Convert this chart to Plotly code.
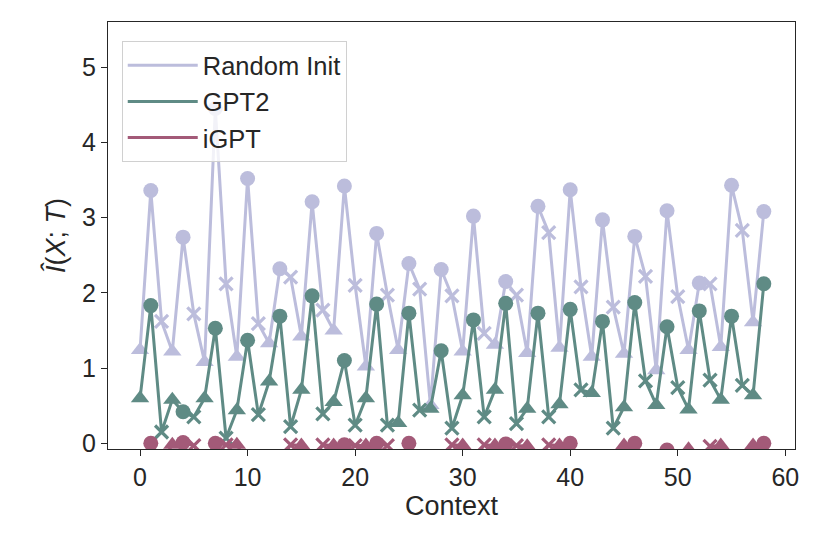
import plotly.graph_objects as go

# context index 0..58
context = list(range(59))

random_init = [1.24, 3.36, 1.62, 1.22, 2.74, 1.72, 1.08, 4.45, 2.12, 1.15,
               3.52, 1.59, 1.33, 2.32, 2.21, 1.42, 3.21, 1.77, 1.50, 3.42,
               2.10, 1.02, 2.79, 1.97, 1.24, 2.39, 2.05, 0.51, 2.31, 1.96,
               1.22, 3.02, 1.46, 1.31, 2.15, 1.97, 1.20, 3.15, 2.80, 1.27,
               3.37, 2.08, 1.15, 2.97, 1.81, 1.19, 2.75, 2.22, 0.97, 3.09,
               1.95, 1.24, 2.13, 2.12, 1.28, 3.43, 2.83, 1.61, 3.08]

gpt2 = [0.60, 1.83, 0.15, 0.58, 0.42, 0.35, 0.60, 1.53, 0.07, 0.44,
        1.37, 0.38, 0.82, 1.69, 0.22, 0.71, 1.96, 0.39, 0.55, 1.10,
        0.24, 0.60, 1.85, 0.24, 0.27, 1.73, 0.44, 0.46, 1.23, 0.20,
        0.64, 1.64, 0.35, 0.71, 1.86, 0.26, 0.46, 1.73, 0.35, 0.52,
        1.78, 0.71, 0.67, 1.62, 0.20, 0.48, 1.87, 0.83, 0.51, 1.55,
        0.74, 0.45, 1.76, 0.84, 0.58, 1.69, 0.77, 0.64, 2.12]

igpt = [-0.25, 0.00, -0.25, -0.02, 0.01, -0.03, -0.25, 0.00, -0.02, -0.02,
        -0.25, -0.25, -0.25, -0.25, -0.02, -0.03, -0.25, -0.02, -0.03, -0.02,
        -0.03, -0.03, 0.00, -0.03, -0.25, 0.00, -0.25, -0.25, -0.25, -0.02,
        -0.03, -0.25, -0.02, -0.03, -0.01, -0.03, -0.04, -0.25, -0.02, -0.03,
        0.00, -0.25, -0.25, -0.25, -0.25, -0.03, 0.00, -0.25, -0.25, -0.09,
        -0.25, -0.08, -0.25, -0.04, -0.03, -0.25, -0.25, -0.03, 0.00]

series = [
    ("Random Init", random_init, "#bcbddc"),
    ("GPT2", gpt2, "#5f8b85"),
    ("iGPT", igpt, "#a35a78"),
]

# markers cycle triangle / circle / x along the context
symbols = [["triangle-up", "circle", "x-thin"][i % 3] for i in context]
sizes = [[16, 15, 13][i % 3] for i in context]
outline = [[0, 0, 3.2][i % 3] for i in context]

FONT = "Liberation Sans, Arial, Helvetica, sans-serif"
INK = "#262626"

fig = go.Figure()

for name, vals, color in series:
    fig.add_trace(go.Scatter(
        x=context, y=vals, mode="lines+markers", name=name,
        showlegend=False,
        line=dict(color=color, width=3),
        marker=dict(symbol=symbols, size=sizes, color=color, opacity=1,
                    line=dict(color=color, width=outline)),
    ))

# legend shows plain line samples like matplotlib
for name, vals, color in series:
    fig.add_trace(go.Scatter(
        x=[None], y=[None], mode="lines", name=name, legendgroup=name,
        line=dict(color=color, width=3),
    ))

# page body adds an 8px offset, margins compensate for it
fig.update_layout(
    width=830, height=554,
    margin=dict(l=100, r=43, t=14, b=113),
    paper_bgcolor="white", plot_bgcolor="white",
    font=dict(family=FONT, size=25, color=INK),
    legend=dict(x=0.02, y=0.955, xanchor="left", yanchor="top",
                bgcolor="rgba(255,255,255,0.8)", bordercolor="#d0d0d0",
                borderwidth=1, font=dict(size=25.5), itemwidth=70,
                tracegroupgap=0),
)

fig.update_xaxes(
    range=[-2.98, 60.9], tickvals=[0, 10, 20, 30, 40, 50, 60],
    showgrid=False, zeroline=False, automargin=False,
    showline=True, linecolor=INK, linewidth=1.3, mirror=True,
    ticks="outside", ticklen=6, tickwidth=1.3, tickcolor=INK,
    title=dict(text="Context", font=dict(size=27), standoff=4),
)
fig.update_yaxes(
    range=[-0.076, 5.6], tickvals=[0, 1, 2, 3, 4, 5],
    showgrid=False, zeroline=False, automargin=False,
    showline=True, linecolor=INK, linewidth=1.3, mirror=True,
    ticks="outside", ticklen=6, tickwidth=1.3, tickcolor=INK,
    title=dict(text="<i>I\u0302</i>(<i>X</i>; <i>T</i>)", font=dict(size=27), standoff=8),
)

fig.write_html("out.html")
